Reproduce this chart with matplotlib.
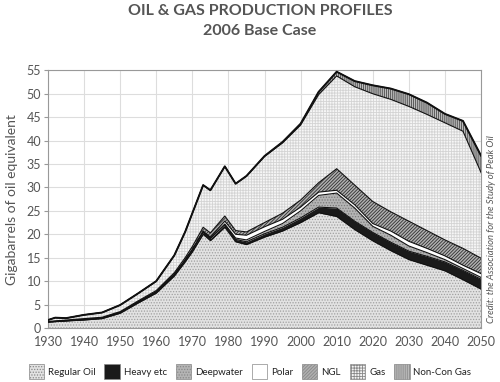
import numpy as np
import matplotlib
matplotlib.use('Agg')
import matplotlib.pyplot as plt
from matplotlib.patches import Patch

plt.rcParams['font.family'] = ['Lato', 'DejaVu Sans']
plt.rcParams['hatch.linewidth'] = 0.6

# data (Gb oil equivalent per year)
years = [1930, 1932, 1935, 1940, 1945, 1950, 1955, 1960, 1965, 1968, 1970, 1973,
         1975, 1979, 1982, 1985, 1990, 1995, 2000, 2005, 2010, 2015, 2020, 2025,
         2030, 2035, 2040, 2045, 2050]
regular_oil = [1.25, 1.35, 1.5, 1.7, 2.0, 3.15, 5.35, 7.45, 11.1, 14.1, 16.25, 20.0,
               18.65, 21.5, 18.4, 17.8, 19.4, 20.7, 22.5, 24.6, 23.8, 21.0, 18.6, 16.5,
               14.6, 13.4, 12.2, 10.3, 8.3]
heavy = [0.05, 0.05, 0.05, 0.1, 0.1, 0.15, 0.2, 0.25, 0.3, 0.35, 0.4, 0.45,
         0.45, 0.5, 0.5, 0.6, 0.7, 0.8, 1.0, 1.2, 1.8, 1.8, 1.8, 1.8,
         1.8, 1.9, 1.9, 2.0, 2.1]
deepwater = [0, 0, 0, 0, 0, 0, 0, 0, 0, 0, 0.05, 0.1,
             0.1, 0.2, 0.3, 0.4, 0.5, 0.8, 1.5, 2.5, 3.2, 2.8, 1.3, 1.5,
             1.1, 0.8, 0.5, 0.4, 0.4]
polar = [0, 0, 0, 0, 0, 0, 0, 0, 0, 0, 0, 0.1,
         0.2, 0.6, 0.8, 1.0, 1.0, 0.9, 0.8, 0.7, 0.6, 0.7, 0.6, 0.9,
         1.0, 0.9, 0.8, 0.7, 0.8]
ngl = [0.1, 0.1, 0.15, 0.2, 0.2, 0.2, 0.25, 0.3, 0.4, 0.55, 0.7, 0.85,
       0.9, 1.1, 0.8, 0.7, 0.9, 1.3, 1.5, 2.0, 4.6, 4.2, 4.7, 4.1,
       4.3, 3.8, 3.4, 3.6, 3.3]
gas = [0.3, 0.7, 0.4, 0.8, 1.0, 1.4, 1.6, 2.0, 3.7, 5.5, 7.1, 9.0,
       9.1, 10.6, 10.0, 11.9, 14.1, 15.0, 16.0, 18.8, 19.8, 21.0, 23.0, 24.0,
       24.5, 24.8, 25.0, 25.0, 18.3]
noncon_gas = [0, 0, 0, 0, 0, 0, 0, 0, 0, 0, 0, 0,
              0, 0, 0, 0.05, 0.1, 0.2, 0.3, 0.6, 0.9, 1.2, 1.8, 2.3,
              2.6, 2.5, 1.9, 2.2, 3.6]

labels = ['Regular Oil', 'Heavy etc', 'Deepwater', 'Polar', 'NGL', 'Gas', 'Non-Con Gas']
series = [regular_oil, heavy, deepwater, polar, ngl, gas, noncon_gas]
faces = ['#e2e2e2', '#1a1a1a', '#b4b4b4', 'white', '#b0b0b0', '#f6f6f6', '#bcbcbc']
hatches = ['......', None, '......', None, '//////////', '++++++', '||||||||']
hatch_cols = ['#a0a0a0', '#1a1a1a', '#7a7a7a', 'white', '#303030', '#d4d4d4', '#4a4a4a']

grey = '#555555'
fig = plt.figure(figsize=(5, 3.82), dpi=100)
ax = fig.add_axes([0.096, 0.1414, 0.866, 0.6745])

bottom = np.zeros(len(years))
for vals, fc, h, hc in zip(series, faces, hatches, hatch_cols):
    top = bottom + np.array(vals)
    ax.fill_between(years, bottom, top, facecolor=fc, hatch=h, edgecolor=hc,
                    linewidth=0, zorder=2)
    ax.plot(years, top, color='#111111', linewidth=0.8, zorder=3)
    bottom = top
ax.plot(years, bottom, color='#111111', linewidth=1.4, zorder=4)

ax.set_xlim(1930, 2050)
ax.set_ylim(0, 55)
ax.set_xticks(range(1930, 2051, 10))
ax.set_yticks(range(0, 56, 5))
ax.grid(True, color='#dddddd', linewidth=0.8, zorder=0)
for s in ax.spines.values():
    s.set_color('#999999')
ax.tick_params(axis='both', colors=grey, labelsize=9, length=0)
ax.tick_params(axis='x', pad=6)
ax.tick_params(axis='y', length=3, color='#999999', pad=2)
ax.set_ylabel('Gigabarrels of oil equivalent', fontsize=10, color=grey, labelpad=6)

fig.text(0.52, 0.972, 'OIL & GAS PRODUCTION PROFILES', ha='center', va='center',
         fontsize=11.5, fontweight='bold', color=grey)
fig.text(0.52, 0.918, '2006 Base Case', ha='center', va='center',
         fontsize=11.5, fontweight='bold', color=grey)
fig.text(0.982, 0.40, 'Credit: the Association for the Study of Peak Oil', rotation=90,
         ha='center', va='center', fontsize=6.8, style='italic', color=grey)

handles = [Patch(facecolor=fc, hatch=h, edgecolor='#888888', linewidth=0.5)
           for fc, h in zip(faces, hatches)]
fig.legend(handles, labels, loc='center', bbox_to_anchor=(0.5, 0.027), ncol=7,
           frameon=False, fontsize=7, handlelength=1.6, handleheight=2.0,
           columnspacing=0.9, handletextpad=0.4, labelcolor='#222222')

fig.savefig('out.png', dpi=100)
